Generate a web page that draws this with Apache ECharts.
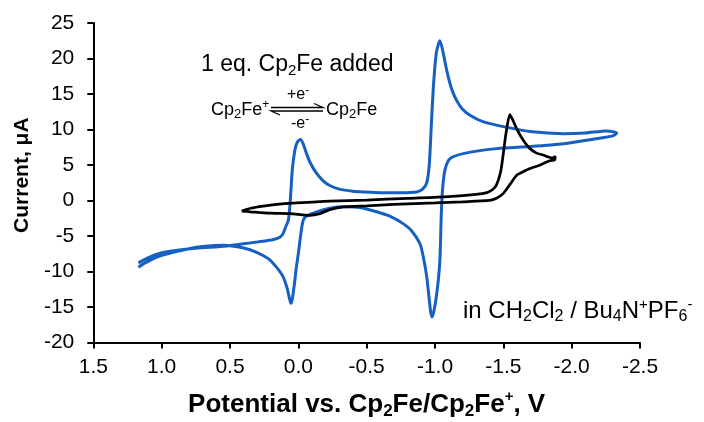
<!DOCTYPE html>
<html>
<head>
<meta charset="utf-8">
<script src="https://cdn.jsdelivr.net/npm/echarts@6/dist/echarts.min.js"></script>
<style>
  html, body { margin: 0; padding: 0; background: #fff; }
  #chart { width: 704px; height: 422px; }
</style>
</head>
<body>
<div id="chart"></div>
<script>
// ---- Data ----
// Blue CV: 1 eq. Cp2Fe added (potential V, current µA), in scan order
const blueE = [1.17, 1.10, 1.04, 0.95, 0.79, 0.57, 0.40, 0.30, 0.18, 0.13, 0.11, 0.09, 0.073, 0.06, 0.044, 0.025, 0.005, -0.017, -0.035, -0.06, -0.09, -0.134, -0.18, -0.23, -0.30, -0.40, -0.476, -0.60, -0.75, -0.866, -0.91, -0.94, -0.958, -0.975, -0.99, -1.01, -1.036, -1.06, -1.085, -1.12, -1.158, -1.20, -1.256, -1.35, -1.50, -1.695, -1.94, -2.10, -2.256, -2.33, -2.30, -2.18, -1.94, -1.695, -1.45, -1.207, -1.11, -1.073, -1.055, -1.046, -1.036, -1.02, -1.00, -0.985, -0.976, -0.965, -0.94, -0.915, -0.89, -0.83, -0.77, -0.68, -0.573, -0.45, -0.33, -0.23, -0.134, -0.06, -0.036, -0.02, 0.0, 0.015, 0.03, 0.045, 0.054, 0.065, 0.08, 0.11, 0.16, 0.22, 0.305, 0.40, 0.55, 0.70, 0.80, 0.915, 1.04, 1.12, 1.17];
const blueI = [-8.8, -8.1, -7.6, -7.2, -6.8, -6.5, -6.1, -5.85, -5.5, -5.1, -4.6, -3.6, -2.8, -0.4, 4.3, 7.1, 8.3, 8.6, 8.0, 6.6, 5.2, 3.8, 2.8, 2.1, 1.6, 1.3, 1.2, 1.1, 1.1, 1.2, 1.6, 2.5, 5.0, 11.3, 16.5, 20.8, 22.5, 20.8, 18.4, 15.8, 14.1, 12.9, 12.0, 11.1, 10.4, 9.7, 9.4, 9.5, 9.8, 9.5, 9.1, 8.7, 8.0, 7.6, 7.3, 6.6, 5.9, 4.3, 1.5, -2.0, -8.4, -12.0, -14.8, -16.1, -16.4, -15.2, -10.8, -8.0, -6.1, -4.3, -3.3, -2.3, -1.6, -1.0, -0.9, -1.1, -1.6, -2.2, -2.8, -4.5, -7.5, -9.5, -12.0, -14.0, -14.5, -13.8, -12.5, -10.8, -9.4, -8.2, -7.3, -6.7, -6.3, -6.5, -6.8, -7.3, -8.0, -8.8, -9.4];

// Black CV (potential V, current µA), in scan order
const blackE = [0.414, 0.35, 0.256, 0.12, 0.012, -0.23, -0.5, -0.8, -1.1, -1.3, -1.38, -1.42, -1.45, -1.48, -1.50, -1.52, -1.548, -1.57, -1.60, -1.62, -1.66, -1.695, -1.74, -1.79, -1.86, -1.88, -1.875, -1.84, -1.77, -1.695, -1.64, -1.60, -1.55, -1.50, -1.45, -1.40, -1.2, -1.0, -0.7, -0.5, -0.33, -0.23, -0.158, -0.085, 0.061, 0.207, 0.35, 0.414];
const blackI = [-1.5, -1.1, -0.8, -0.5, -0.35, -0.1, 0.05, 0.3, 0.55, 0.85, 1.1, 1.5, 2.2, 4.0, 6.6, 9.5, 12.1, 11.3, 10.0, 9.3, 8.1, 7.3, 6.7, 6.4, 6.0, 6.2, 5.7, 5.6, 5.0, 4.5, 4.0, 3.6, 2.3, 1.0, 0.3, 0.0, -0.2, -0.35, -0.55, -0.75, -0.9, -1.3, -1.85, -2.1, -1.85, -1.8, -1.6, -1.5];

// Axis ranges / ticks
const xTicks = { min: -2.5, max: 1.5, step: 0.5 };
const yTicks = { min: -20, max: 25, step: 5 };

const FONT = "'Liberation Sans', Arial, Helvetica, sans-serif";
const zip = (a, b) => a.map((v, i) => [v, b[i]]);

const chart = echarts.init(document.getElementById('chart'), null, { renderer: 'canvas' });

const subStyle = (size, lh) => ({ fontSize: size, lineHeight: lh, fontFamily: FONT, color: '#000', verticalAlign: 'bottom' });
const supStyle = (size, lh) => ({ fontSize: size, lineHeight: lh, fontFamily: FONT, color: '#000', verticalAlign: 'top' });

function richText(fs, lh, subFs, subLh, supFs, supLh, bold) {
  const w = bold ? 'bold' : 'normal';
  return {
    n: { fontSize: fs, lineHeight: lh, fontFamily: FONT, color: '#000', fontWeight: w },
    sub: Object.assign(subStyle(subFs, subLh), { fontWeight: w }),
    sup: Object.assign(supStyle(supFs, supLh), { fontWeight: w })
  };
}

const option = {
  animation: false,
  backgroundColor: '#fff',
  grid: { left: 93.3, right: 64, top: 23, bottom: 79.6, containLabel: false, outerBoundsMode: 'none' },
  xAxis: {
    type: 'value',
    inverse: true,
    min: xTicks.min, max: xTicks.max, interval: xTicks.step,
    axisLine: { onZero: false, lineStyle: { color: '#000', width: 2 } },
    axisTick: { show: true, inside: false, length: 6, lineStyle: { color: '#000', width: 2 } },
    splitLine: { show: false },
    axisLabel: {
      color: '#000', fontSize: 21, fontFamily: FONT, margin: 14,
      showMinLabel: true, showMaxLabel: true, hideOverlap: false,
      formatter: v => (Math.abs(v) < 1e-9 ? 0 : v).toFixed(1)
    },
    name: '{n|Potential vs. Cp}{sub|2}{n|Fe/Cp}{sub|2}{n|Fe}{sup|+}{n|, V}',
    nameLocation: 'middle',
    nameGap: 47,
    nameTextStyle: { rich: richText(26, 30, 17, 17, 15, 13, true) }
  },
  yAxis: {
    type: 'value',
    min: yTicks.min, max: yTicks.max, interval: yTicks.step,
    axisLine: { show: true, onZero: false, lineStyle: { color: '#000', width: 2 } },
    axisTick: { show: true, inside: false, length: 6, lineStyle: { color: '#000', width: 2 } },
    splitLine: { show: false },
    axisLabel: { color: '#000', fontSize: 21, fontFamily: FONT, margin: 19, showMinLabel: true, showMaxLabel: true },
    name: 'Current, μA',
    nameLocation: 'middle',
    nameRotate: 90,
    nameGap: 60,
    nameTextStyle: { color: '#000', fontSize: 21, fontWeight: 'bold', fontFamily: FONT, padding: [0, 0, 0, 15] }
  },
  series: [
    {
      name: '1 eq. Cp2Fe added', type: 'line', data: zip(blueE, blueI),
      showSymbol: false, symbol: 'none', smooth: 0.25, clip: false,
      lineStyle: { color: '#1560C0', width: 3 }, z: 2
    },
    {
      name: 'without Cp2Fe', type: 'line', data: zip(blackE, blackI),
      showSymbol: false, symbol: 'none', smooth: 0.25, clip: false,
      lineStyle: { color: '#000', width: 2.75 }, z: 3
    }
  ],
  graphic: [
    { type: 'text', x: 201, y: 65, style: { text: '{n|1 eq. Cp}{sub|2}{n|Fe added}', rich: richText(23, 27, 15, 15, 14, 12, false), verticalAlign: 'middle', align: 'left' } },
    { type: 'text', x: 211, y: 110, style: { text: '{n|Cp}{sub|2}{n|Fe}{sup|+}', rich: richText(18, 22, 13, 13, 12, 10, false), verticalAlign: 'middle', align: 'left' } },
    { type: 'text', x: 326, y: 110, style: { text: '{n|Cp}{sub|2}{n|Fe}', rich: richText(18, 22, 13, 13, 12, 10, false), verticalAlign: 'middle', align: 'left' } },
    { type: 'text', x: 287, y: 95, style: { text: '{n|+e}{sup|-}', rich: richText(16, 20, 12, 12, 12, 10, false), verticalAlign: 'middle', align: 'left' } },
    { type: 'text', x: 291, y: 124, style: { text: '{n|-e}{sup|-}', rich: richText(16, 20, 12, 12, 12, 10, false), verticalAlign: 'middle', align: 'left' } },
    { type: 'polyline', shape: { points: [[271, 107.5], [323, 107.5], [314, 103.5]] }, style: { stroke: '#000', lineWidth: 1.3, fill: null } },
    { type: 'polyline', shape: { points: [[323, 111], [271, 111], [280, 115]] }, style: { stroke: '#000', lineWidth: 1.3, fill: null } },
    { type: 'text', x: 463, y: 311, style: { text: '{n|in CH}{sub|2}{n|Cl}{sub|2}{n| / Bu}{sub|4}{n|N}{sup|+}{n|PF}{sub|6}{sup|-}', rich: richText(24, 28, 16, 16, 15, 12, false), verticalAlign: 'middle', align: 'left' } }
  ]
};

chart.setOption(option);
</script>
</body>
</html>
